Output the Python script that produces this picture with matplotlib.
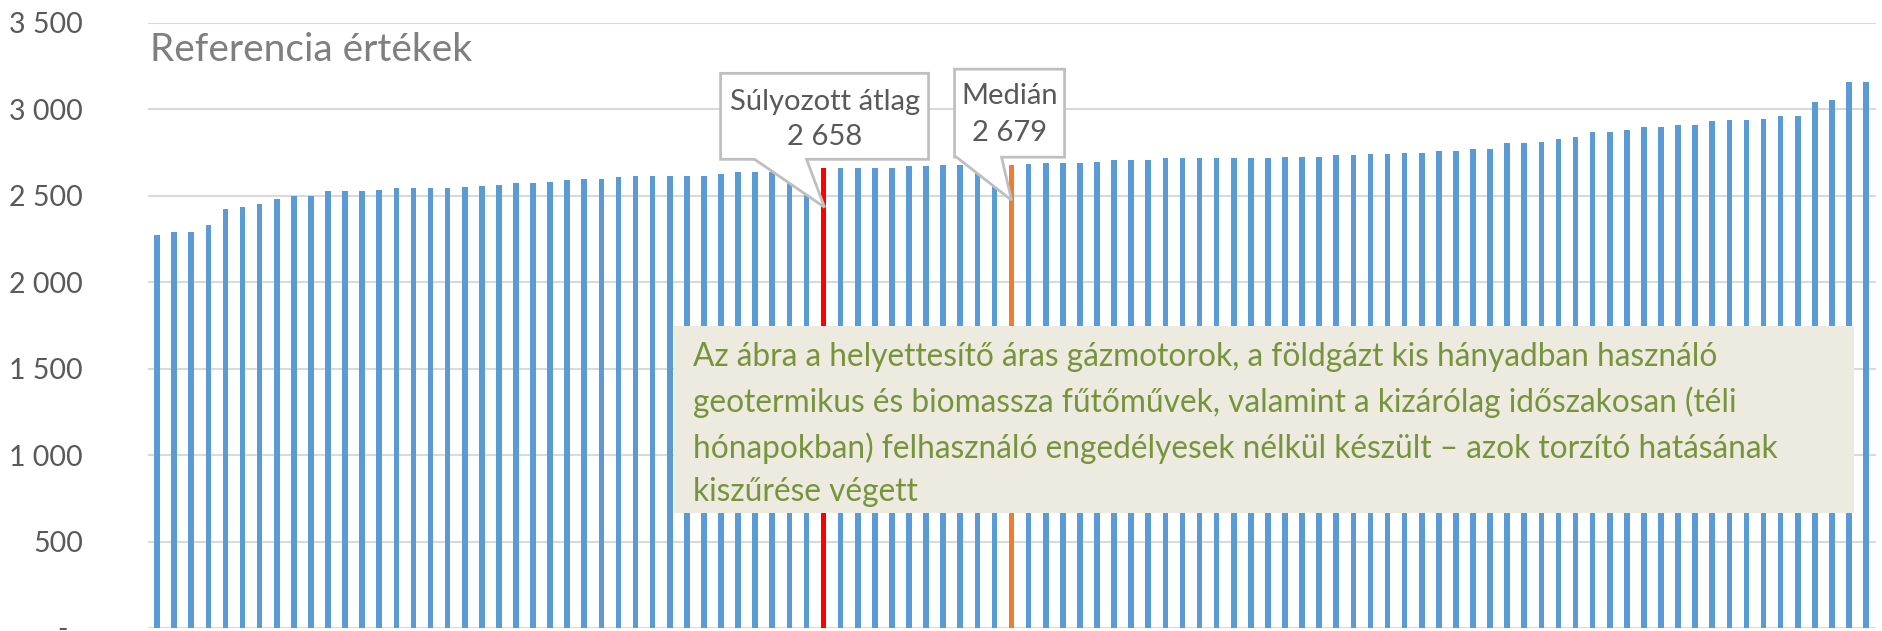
import matplotlib.pyplot as plt
import matplotlib.patches as mpatches
from matplotlib.transforms import Affine2D
from matplotlib.ticker import FuncFormatter

plt.rcParams['font.family'] = ['Lato', 'DejaVu Sans']

# sorted reference values (one bar per licence holder)
values = [2270, 2287, 2287, 2329, 2425, 2433, 2454, 2483, 2500, 2500,
          2529, 2529, 2529, 2535, 2542, 2542, 2542, 2542, 2550, 2558,
          2563, 2571, 2571, 2579, 2592, 2595, 2597, 2605, 2615, 2615,
          2615, 2615, 2615, 2623, 2636, 2636, 2638, 2642, 2648, 2658,
          2661, 2661, 2661, 2661, 2669, 2669, 2675, 2675, 2675, 2677,
          2679, 2681, 2689, 2689, 2689, 2697, 2704, 2704, 2704, 2718,
          2718, 2718, 2718, 2718, 2718, 2718, 2726, 2726, 2726, 2734,
          2734, 2741, 2741, 2749, 2749, 2756, 2757, 2772, 2772, 2802,
          2802, 2809, 2825, 2839, 2870, 2870, 2878, 2899, 2899, 2907,
          2907, 2930, 2936, 2936, 2944, 2959, 2959, 3041, 3055, 3160,
          3160]
avg_idx = 39      # súlyozott átlag
avg_val = 2658
med_idx = 50      # medián
med_val = 2679
yticks = [0, 500, 1000, 1500, 2000, 2500, 3000, 3500]

title = 'Referencia értékek'
note = ('Az ábra a helyettesítő áras gázmotorok, a földgázt kis hányadban használó\n'
        'geotermikus és biomassza fűtőművek, valamint a kizárólag időszakosan (téli\n'
        'hónapokban) felhasználó engedélyesek nélkül készült – azok torzító hatásának\n'
        'kiszűrése végett')

BLUE = '#5B9BD5'
RED = '#FF0000'
ORANGE = '#ED7D31'
GREY = '#595959'

fig = plt.figure(figsize=(18.83, 6.31), dpi=100)
ax = fig.add_axes([148 / 1883, 3 / 631, 1728 / 1883, 605.3 / 631])

x = list(range(len(values)))
colors = [BLUE] * len(values)
colors[avg_idx] = RED
colors[med_idx] = ORANGE
heights = list(values)
heights[avg_idx] = avg_val
heights[med_idx] = med_val
ax.bar(x, heights, width=0.33, color=colors, zorder=2)

ax.set_xlim(-0.53, len(values) - 0.42)
ax.set_ylim(0, 3500)
ax.set_yticks(yticks)
ax.yaxis.set_major_formatter(FuncFormatter(
    lambda v, p: '-  ' if v == 0 else f'{int(v):,}'.replace(',', ' ')))
ax.tick_params(axis='y', length=0, pad=47, labelsize=20.5, labelcolor=GREY)
ax.set_xticks([])
ax.grid(axis='y', color='#D9D9D9', linewidth=1.5, zorder=0)
for s in ax.spines.values():
    s.set_visible(False)

ax.text(0.001, 0.955, title, transform=ax.transAxes, fontsize=28,
        color='#7F7F7F', va='center', ha='left')

fig.canvas.draw()


def callout(idx, val, box, base, tip, lines):
    # box / base / tip given as pixel offsets from the bar top
    l, r, b, t = box
    verts = [(l, b), (base[0], b), tip, (base[1], b), (r, b), (r, t), (l, t)]
    tx, ty = ax.transData.transform((idx, val))
    tr = Affine2D().translate(tx, ty)
    poly = mpatches.Polygon(verts, closed=True, transform=tr, facecolor='white',
                            edgecolor='#BFBFBF', linewidth=2, zorder=5)
    fig.add_artist(poly)
    cx = (l + r) / 2
    for dy, s in lines:
        fig.text(0, 0, s, transform=Affine2D().translate(tx + cx, ty + dy),
                 ha='center', va='center', fontsize=21, color=GREY, zorder=6)


callout(avg_idx, avg_val, (-103, 105, 9, 95), (-69, -17), (1, -39),
        [(66, 'Súlyozott átlag'), (31, f'{avg_val:,}'.replace(',', ' '))])
callout(med_idx, med_val, (-57, 53, 7.5, 95.5), (-55, -10), (0, -35.5),
        [(69, 'Medián'), (32, f'{med_val:,}'.replace(',', ' '))])

# note box
fig.patches.append(mpatches.Rectangle((674 / 1883, 1 - 513 / 631), 1180 / 1883, 187 / 631,
                                      transform=fig.transFigure, facecolor='#EDEAE0',
                                      edgecolor='none', zorder=7))
fig.text(693 / 1883, 1 - 342 / 631, note, ha='left', va='top', fontsize=22.8,
         color='#77933C', linespacing=1.56, zorder=8)

fig.savefig('out.png', dpi=100)
